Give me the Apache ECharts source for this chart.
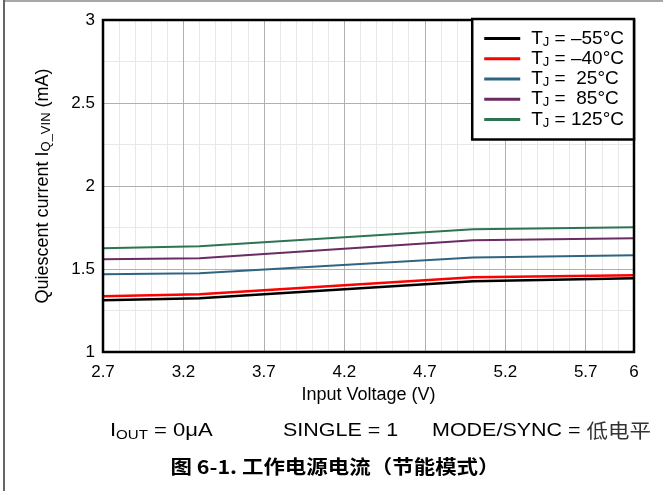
<!DOCTYPE html>
<html><head><meta charset="utf-8">
<script src="https://cdn.jsdelivr.net/npm/echarts@6/dist/echarts.min.js"></script>
<style>html,body{margin:0;padding:0;background:#fff}#c{width:663px;height:491px}</style>
</head><body><div id="c"></div>
<script>
// ---- data ----
const voltages = [2.7, 3.3, 5.0, 6.0];
const tempLabels = ['–55°C', '–40°C', ' 25°C', ' 85°C', '125°C'];
const iq_m55 = [1.312, 1.324, 1.426, 1.444];
const iq_m40 = [1.336, 1.348, 1.450, 1.462];
const iq_25  = [1.468, 1.474, 1.570, 1.583];
const iq_85  = [1.559, 1.565, 1.673, 1.685];
const iq_125 = [1.625, 1.637, 1.739, 1.751];
const xTickLabels = ['2.7', '3.2', '3.7', '4.2', '4.7', '5.2', '5.7', '6'];
const yTickLabels = ['1', '1.5', '2', '2.5', '3'];

// ---- styling ----
const seriesValues = [iq_m55, iq_m40, iq_25, iq_85, iq_125];
const seriesColors = ['#000000', '#ff0000', '#2f6482', '#6b2b63', '#2e7352'];
const seriesWidths = [2.5, 2.5, 2, 2, 2];
const FONT = '"Liberation Sans", Arial, sans-serif';
const CJK = '"Noto Sans CJK SC", sans-serif';

const names = tempLabels.map(t => 'TJ = ' + t);
const series = seriesValues.map((vals, i) => ({
  name: names[i],
  type: 'line',
  xAxisIndex: 0, yAxisIndex: 0,
  symbol: 'none',
  data: voltages.map((v, k) => [v, vals[k]]),
  lineStyle: { color: seriesColors[i], width: seriesWidths[i] },
  itemStyle: { color: seriesColors[i] },
  z: i === 0 ? 3 : 2
}));

const chart = echarts.init(document.getElementById('c'), null, { renderer: 'canvas' });
const fmtLabel = (list) => (v) => {
  const s = String(Math.round(v * 100) / 100);
  return list.indexOf(s) >= 0 ? s : '';
};
const SX = 1.13;
chart.setOption({
  animation: false,
  backgroundColor: '#ffffff',
  textStyle: { fontFamily: FONT },
  grid: { left: 103, top: 20, right: 29, bottom: 139, show: true, backgroundColor: 'transparent',
          borderColor: '#000', borderWidth: 2.5, z: 10 },
  xAxis: [
    { type: 'value', min: 2.7, max: 6, interval: 0.5,
      axisLine: { show: false }, axisTick: { show: false },
      axisLabel: { fontSize: 17, color: '#000', margin: 12, fontFamily: FONT, formatter: fmtLabel(xTickLabels),
                   showMinLabel: true, showMaxLabel: true },
      splitLine: { show: true, lineStyle: { color: '#b0b0b0', width: 1 } },
      name: 'Input Voltage (V)', nameLocation: 'middle', nameGap: 33,
      nameTextStyle: { fontSize: 18, color: '#000', fontFamily: FONT }, z: 1 },
    { type: 'value', min: 2.7, max: 6, interval: 0.1, position: 'bottom',
      axisLine: { show: false }, axisTick: { show: false }, axisLabel: { show: false },
      splitLine: { show: true, lineStyle: { color: '#e8e8e8', width: 1 } }, z: 0 }
  ],
  yAxis: [
    { type: 'value', min: 1, max: 3, interval: 0.5,
      axisLine: { show: false }, axisTick: { show: false },
      axisLabel: { fontSize: 17, color: '#000', margin: 8, fontFamily: FONT, formatter: fmtLabel(yTickLabels) },
      splitLine: { show: true, lineStyle: { color: '#b0b0b0', width: 1 } },
      name: '{a|Quiescent current I}{s|Q_VIN}{a| (mA)}', nameLocation: 'middle', nameGap: 50, nameRotate: 90,
      nameTextStyle: { color: '#000', rich: {
        a: { fontSize: 18, fontFamily: FONT, color: '#000', lineHeight: 20 },
        s: { fontSize: 13, fontFamily: FONT, color: '#000', verticalAlign: 'bottom' } } }, z: 1 },
    { type: 'value', min: 1, max: 3, interval: 0.25, position: 'left',
      axisLine: { show: false }, axisTick: { show: false }, axisLabel: { show: false },
      splitLine: { show: true, lineStyle: { color: '#e8e8e8', width: 1 } }, z: 0 }
  ],
  legend: {
    orient: 'vertical', right: 29, top: 19, z: 20,
    backgroundColor: '#ffffff', borderColor: '#000', borderWidth: 2.5,
    padding: [10, 10, 10, 12], itemGap: 0.75,
    icon: 'rect', itemWidth: 36, itemHeight: 3,
    data: names,
    formatter: (n) => '{g| }{a|T}{s|J}{a|' + n.slice(2) + '}',
    textStyle: { rich: {
      g: { width: 6, fontSize: 19, lineHeight: 20 },
      a: { fontSize: 19, fontFamily: FONT, color: '#000', lineHeight: 20 },
      s: { fontSize: 13, fontFamily: FONT, color: '#000', verticalAlign: 'bottom' } } }
  },
  series: series,
  graphic: [
    { type: 'line', shape: { x1: 4, y1: 1, x2: 663, y2: 1 }, style: { stroke: '#8a8a8a', lineWidth: 1.5 }, silent: true },
    { type: 'line', shape: { x1: 4, y1: 0, x2: 4, y2: 491 }, style: { stroke: '#666', lineWidth: 2 }, silent: true },
    { type: 'text', x: 110, y: 431, scaleX: 1.16, style: { text: '{a|I}{s|OUT}{a| = 0μA}', verticalAlign: 'middle', rich: {
        a: { fontSize: 19, fontFamily: FONT, fill: '#000', lineHeight: 22 },
        s: { fontSize: 13, fontFamily: FONT, fill: '#000', verticalAlign: 'bottom' } } } },
    { type: 'text', x: 283, y: 431, scaleX: SX, style: { text: 'SINGLE = 1', verticalAlign: 'middle', fontSize: 19, fontFamily: FONT, fill: '#000' } },
    { type: 'text', x: 432, y: 431, scaleX: SX, style: { text: '{a|MODE/SYNC = }{c|低电平}', verticalAlign: 'middle', rich: {
        a: { fontSize: 19, fontFamily: FONT, fill: '#000' },
        c: { fontSize: 19, fontFamily: CJK, fill: '#333' } } } },
    { type: 'text', x: 335, y: 467, scaleX: SX, style: { text: '图 6-1. 工作电源电流（节能模式）', align: 'center', verticalAlign: 'middle',
        fontSize: 19, fontWeight: 'bold', fontFamily: CJK, fill: '#000' } }
  ]
});
</script></body></html>
